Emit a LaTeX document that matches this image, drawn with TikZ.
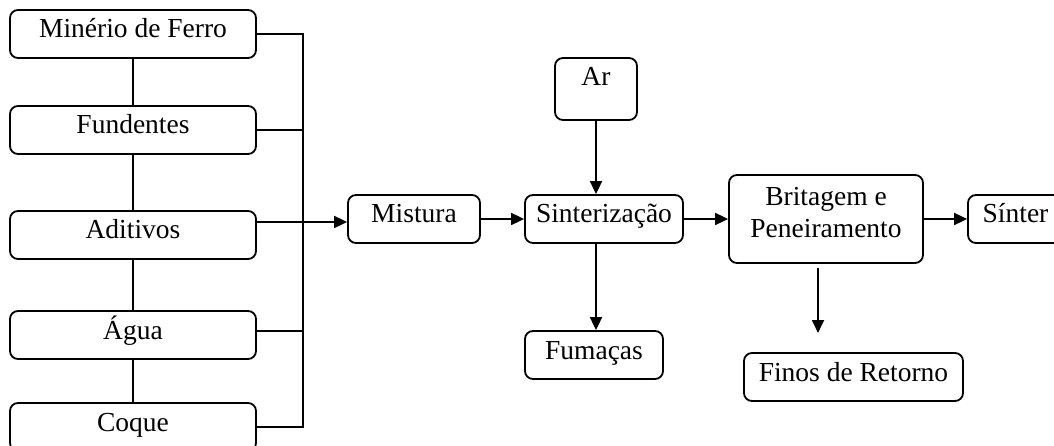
\documentclass[tikz,border=0pt]{standalone}
\usepackage{fontspec}
\setmainfont{Liberation Serif}
\usetikzlibrary{arrows.meta,calc}
\begin{document}
\begin{tikzpicture}[x=1pt,y=-1pt,
  box/.style={draw, line width=1.8pt, rounded corners=8pt, inner sep=0pt,
    minimum height=48pt, text height=17pt, text depth=9pt,
    font=\fontsize{27.5}{32}\selectfont},
  link/.style={line width=1.8pt},
  flow/.style={line width=1.8pt, -{Triangle[length=13pt,width=12pt]}}]
\useasboundingbox (0,0) rectangle (1054,446);
\clip (0,0) rectangle (1054,446);

% raw materials
\node[box, minimum width=246pt] (minerio)   at (133,34)  {Minério de Ferro};
\node[box, minimum width=246pt] (fundentes) at (133,130) {Fundentes};
\node[box, minimum width=246pt] (aditivos)  at (133,235) {Aditivos};
\node[box, minimum width=246pt] (agua)      at (133,335) {Água};
\node[box, minimum width=246pt] (coque)     at (133,427) {Coque};

% process chain
\node[box, minimum width=132pt] (mistura) at (414,219) {Mistura};
\node[box, minimum width=158pt] (sinter)  at (604,219) {Sinterização};
\node[box, minimum width=82pt, minimum height=62pt, text depth=23pt] (ar) at (596,89) {Ar};
\node[box, minimum width=194pt, minimum height=88pt, align=center,
      text height={}, text depth=14pt] (brit) at (826,219) {Britagem e\\Peneiramento};
\node[box, minimum width=95pt]  (sintor)  at (1015.5,219) {Sínter};
\node[box, minimum width=138pt] (fumacas) at (594,355) {Fumaças};
\node[box, minimum width=219pt] (finos)   at (853.5,377) {Finos de Retorno};

% collecting bus
\coordinate (bus)  at (303,0);
\coordinate (join) at (303,222);
\coordinate (fall) at (818,333);

\draw[link] (minerio.south)   -- (fundentes.north);
\draw[link] (fundentes.south) -- (aditivos.north);
\draw[link] (aditivos.south)  -- (agua.north);
\draw[link] (agua.south)      -- (coque.north);

\draw[link] (minerio.east) -- (minerio.east -| bus) -- (coque.east -| bus) -- (coque.east);
\draw[link] (fundentes.east) -- (fundentes.east -| bus);
\draw[link] (agua.east |- 0,331) -- (bus |- 0,331);
\draw[flow] (aditivos.east |- join) -- (join -| mistura.west);

% flows
\draw[flow] (mistura) -- (sinter);
\draw[flow] (ar) -- (ar |- sinter.north);
\draw[flow] (ar |- sinter.south) -- (ar |- fumacas.north);
\draw[flow] (sinter) -- (brit);
\draw[flow] (brit) -- (sintor);
\draw[flow] ($(brit.south -| fall)+(0,4)$) -- (fall);
\end{tikzpicture}
\end{document}
